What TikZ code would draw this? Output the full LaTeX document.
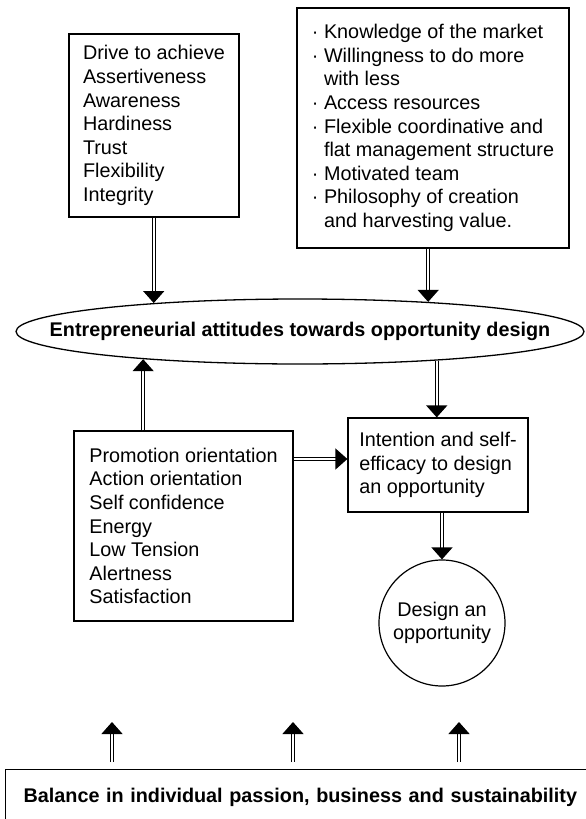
\documentclass[tikz,border=0pt]{standalone}
\usepackage{fontspec}
\setmainfont{Liberation Sans}
\usetikzlibrary{arrows.meta,shapes.geometric}
\newcommand{\bul}{\textperiodcentered\ }
\newcommand{\bulpad}{\phantom{\textperiodcentered\ }}
\begin{document}
\begin{tikzpicture}[x=1pt,y=1pt]
    \tikzstyle{every node}+=[font=\fontsize{19.8}{23.6}\selectfont]
    \tikzstyle{bold}=[font=\fontsize{19.8}{23.6}\selectfont\bfseries]
    \tikzstyle{box}=[draw, line width=1.2pt, rectangle, align=left, inner sep=0pt]
    \tikzstyle{dbl}=[double, double distance=1.6pt, line width=1.3pt, -{Triangle[length=12pt,width=21pt]}]
    \useasboundingbox (0,0) rectangle (586,-819);
    \node [box, minimum width=170pt, minimum height=183pt] (drive) at (154,-125.5) {Drive to achieve\\Assertiveness\\Awareness\\Hardiness\\Trust\\Flexibility\\Integrity};
    \node [box, minimum width=272pt, minimum height=240pt] (market) at (433,-128) {\bul Knowledge of the market\\\bul Willingness to do more\\\bulpad with less\\\bul Access resources\\\bul Flexible coordinative and\\\bulpad flat management structure\\\bul Motivated team\\\bul Philosophy of creation\\\bulpad and harvesting value.};
    \node [draw, ellipse, line width=1.3pt, minimum width=568pt, minimum height=65pt, inner sep=0pt] (att) at (300,-331.5) {};
    \node [bold] (attlabel) at (att) {Entrepreneurial attitudes towards opportunity design};
    \node [box, minimum width=219pt, minimum height=190pt] (promo) at (183.5,-526) {Promotion orientation\\Action orientation\\Self confidence\\Energy\\Low Tension\\Alertness\\Satisfaction};
    \node [box, minimum width=180pt, minimum height=94pt] (intent) at (438,-465) {Intention and self-\\efficacy to design\\an opportunity};
    \node [draw, circle, line width=1.2pt, minimum size=126pt, inner sep=0pt, align=center] (design) at (442,-623) {Design an\\opportunity};
    \node [box, anchor=north west, text width=580pt, inner xsep=18pt, inner ysep=18.5pt, bold] (bal) at (5,-769) {Balance in individual passion, business and sustainability};
    % connectors
    \draw [dbl] (att.169.6 |- drive.south) -- (att.169.6);
    \draw [dbl] (att.13.5 |- market.south) -- (att.13.5);
    \draw [dbl] (att.190.5 |- promo.north) -- (att.190.5);
    \draw [dbl] (att.-12.2) -- (att.-12.2 |- intent.north);
    \coordinate (pi) at ([yshift=6pt]intent.west);
    \draw [dbl] (pi -| promo.east) -- (pi);
    \draw [dbl] (design.north |- intent.south) -- (design.north);
    \coordinate (up1) at (112,-722);
    \coordinate (up2) at (293,-722);
    \coordinate (up3) at (459,-722);
    \draw [dbl] (up1 |- bal.north) ++(0,7) -- (up1);
    \draw [dbl] (up2 |- bal.north) ++(0,7) -- (up2);
    \draw [dbl] (up3 |- bal.north) ++(0,7) -- (up3);
\end{tikzpicture}
\end{document}
